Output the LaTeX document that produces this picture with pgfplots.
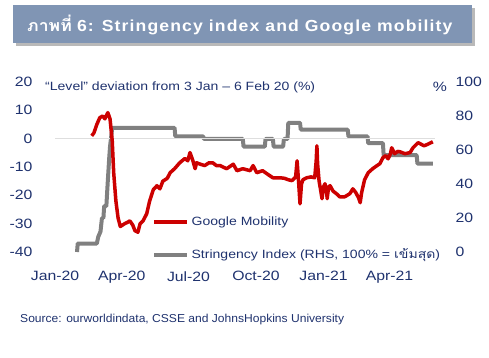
\documentclass[border=0pt]{standalone}
\usepackage{pgfplots}
\pgfplotsset{compat=1.18}
\usepackage{fontspec}
\setmainfont{Liberation Sans}[FakeStretch=1.17]
\newfontfamily\thaifont[Script=Thai,FakeStretch=1.17]{Loma}
\newfontfamily\titlefont[LetterSpace=7,FakeStretch=1.1]{Liberation Sans Bold}
\newfontfamily\thaititle[Script=Thai,FakeStretch=1.1]{Loma Bold}
\newfontfamily\srcfont[FakeStretch=1.05]{Liberation Sans}
\definecolor{navy}{RGB}{31,50,110}
\definecolor{mred}{RGB}{204,0,0}
\definecolor{mgray}{RGB}{128,128,128}
\definecolor{banner}{RGB}{128,149,180}
\begin{document}
\begin{tikzpicture}[x=1pt,y=1pt]
\path[use as bounding box] (0,0) rectangle (489,-357);
% banner
\fill[gray!55] (16,-8) rectangle (475,-46);
\fill[banner] (13,-5) rectangle (472,-43);
\node[anchor=west,text=white,inner sep=0pt] at (27,-25) {\fontsize{16}{18}\selectfont{\thaititle ภาพที่} {\titlefont\bfseries 6: Stringency index and Google mobility}};
% subtitle
\node[anchor=base west,text=navy,inner sep=0pt] at (45,-90) {\fontsize{12}{14}\selectfont “Level” deviation from 3 Jan – 6 Feb 20 (\%)};
\node[anchor=base,text=navy,inner sep=0pt] at (440,-91.5) {\fontsize{13.5}{15}\selectfont \%};
\node[anchor=base west,text=navy,inner sep=0pt] at (20,-322) {\srcfont\fontsize{11.5}{13}\selectfont Source: ourworldindata, CSSE and JohnsHopkins University};
% secondary axis (stringency)
\begin{axis}[
  at={(55pt,-252pt)}, anchor=south west,
  scale only axis, width=380pt, height=170pt,
  xmin=0, xmax=518, ymin=0, ymax=100,
  axis x line=none, axis y line*=right,
  axis line style={draw=none}, tick style={draw=none},
  ytick={0,20,40,60,80,100},
  /pgf/number format/assume math mode=true,
  yticklabel style={anchor=west, xshift=17pt, text=navy, font=\fontsize{13.5}{15}\selectfont},
]
\addplot[mgray, line width=4pt, line join=round] coordinates {
(30,0)(31,5)(57,5)(59,9)(62,12)(64,20)(66,20)(67,27)(70,27)(72,42)(74,56)(75,62)(78,73)
(163,73)(164,68)(202,68)(203,66.5)(256,66.5)(257,62)(286,62)(287,66.5)(297,66.5)(298,62)
(311,62)(312,66.5)(317,66.5)(318,76)(334,76)(335,72)(399,72)(400,68)(426,68)(427,64)
(447,64)(448,57)(493,57)(494,52)(515,52)
};
\end{axis}
% primary axis (google mobility)
\begin{axis}[
  at={(55pt,-252pt)}, anchor=south west,
  scale only axis, width=380pt, height=170pt,
  xmin=0, xmax=518, ymin=-40, ymax=20,
  axis x line*=bottom, axis y line*=left,
  axis line style={draw=none}, tick style={draw=none},
  xtick={0,91,182,274,366,456},
  xticklabels={Jan-20,Apr-20,Jul-20,Oct-20,Jan-21,Apr-21},
  ytick={-40,-30,-20,-10,0,10,20},
  extra y ticks={0}, extra y tick labels={},
  extra y tick style={grid=major, major grid style={draw=black!13, line width=1pt}},
  /pgf/number format/assume math mode=true,
  yticklabel style={anchor=east, xshift=-19pt, text=navy, font=\fontsize{13.5}{15}\selectfont},
  xticklabel style={anchor=north, yshift=-16pt, text=navy, font=\fontsize{13.5}{15}\selectfont},
  legend image code/.code={\draw[#1] (0pt,0pt) -- (33pt,0pt);},
  legend cell align=left,
  legend style={draw=none, fill=none, at={(0.255,0.079)}, anchor=west,
    row sep=17pt, inner sep=0pt, text=navy, font=\fontsize{12}{14}\selectfont,
    nodes={inner sep=2.5pt}},
]
\addplot[mred, line width=3.5pt, line join=round] coordinates {
(50,1)(53,2)(57,5)(61,7.4)(65,8)(68,7)(72,9.2)(75,7)(78,-0.7)(80,-12)(83,-22)(86,-28)
(89,-31)(92,-30.5)(95,-30)(99,-29.5)(102,-29)(106,-30.5)(109,-32.5)(113,-33)(116,-30)
(120,-29)(125,-26.5)(129,-22)(134,-18)(139,-16.6)(143,-17.7)(147,-15)(153,-14)(157,-12)
(163,-10.6)(170,-8.5)(177,-7)(181,-7.8)(184,-4.9)(188,-7.8)(191,-10.6)(193,-8.5)(198,-9)
(204,-9.5)(210,-8.5)(215,-8.5)(220,-9.5)(225,-9.5)(234,-10.6)(243,-9)(248,-11.3)(256,-10.6)
(266,-11.3)(270,-9.5)(275,-12)(283,-11.3)(289,-12.4)(297,-13.8)(307,-13.8)(313,-14)
(318,-14.5)(323,-14.8)(328,-13.5)(330,-7.8)(332,-15)(334,-23)(336,-16)(338,-14.5)
(343,-13.8)(349,-13.5)(354,-13.8)(356,-8)(357,-2.5)(358,-9)(360,-15)(362,-18)(364,-21.2)
(366,-17)(368,-15.9)(370,-18)(371,-21.2)(373,-17)(375,-16.6)(379,-18.5)(384,-19.5)
(388,-20.5)(395,-20.5)(402,-19.4)(406,-17.7)(410,-19)(414,-21)(416,-22.6)(418,-19)
(422,-14.5)(427,-12)(433,-10.6)(439,-9.5)(443,-8.8)(447,-6.7)(451,-6)(454,-7.1)(457,-5.5)
(459,-3.2)(463,-5.3)(467,-4.5)(470,-4.6)(477,-5.3)(484,-4.9)(488,-3.2)(495,-1.4)
(500,-2.1)(503,-2.5)(507,-2.1)(511,-1.6)(515,-1.1)
};
\addlegendentry{Google Mobility}
\addlegendimage{mgray, line width=4pt}
\addlegendentry{Stringency Index (RHS, 100\% = {\thaifont เข้มสุด})}
\end{axis}
\end{tikzpicture}
\end{document}
